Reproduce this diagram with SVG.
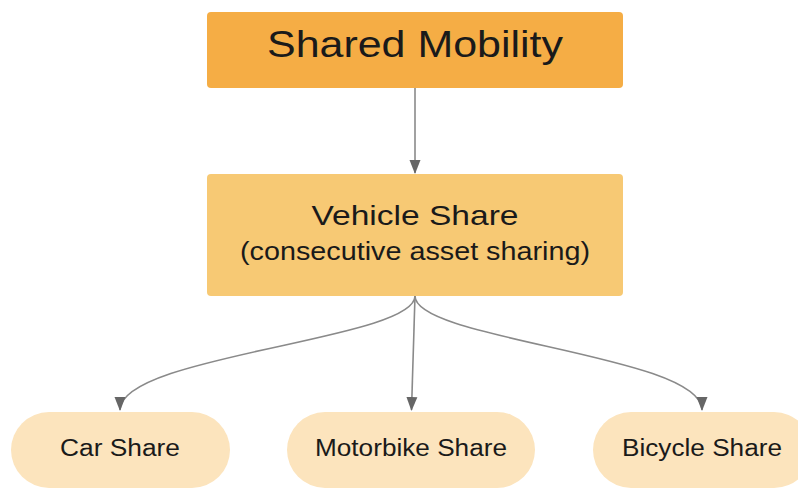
<svg xmlns="http://www.w3.org/2000/svg" width="798" height="489" viewBox="0 0 798 489">
<style>
text{font-family:"Liberation Sans",Arial,sans-serif;fill:#1a1a1a;text-anchor:middle}
.conn{fill:none;stroke:#8a8a8a;stroke-width:1.6}
.pill{fill:#FCE4BD}
</style>
<defs>
<marker id="ah" viewBox="0 0 14 12" refX="13" refY="6" markerWidth="14" markerHeight="12" markerUnits="userSpaceOnUse" orient="auto">
<path d="M0,0.5 L14,6 L0,11.5 Z" fill="#666"/>
</marker>
</defs>
<rect width="798" height="489" fill="#fff"/>
<g id="connectors">
<path class="conn" d="M415,88 L415,173" marker-end="url(#ah)"/>
<path class="conn" d="M415,296 L411.5,410" marker-end="url(#ah)"/>
<path class="conn" d="M415,296 C415,340 120,355 120,410" marker-end="url(#ah)"/>
<path class="conn" d="M415,296 C415,340 702,355 702,410" marker-end="url(#ah)"/>
</g>
<g id="shared-mobility">
<rect x="207" y="12" width="416" height="76" rx="4" fill="#F5AD45"/>
<text x="415" y="57" font-size="36" textLength="296" lengthAdjust="spacingAndGlyphs">Shared Mobility</text>
</g>
<g id="vehicle-share">
<rect x="207" y="174" width="416" height="122" rx="4" fill="#F7C974"/>
<text x="415" y="225" font-size="28" textLength="207" lengthAdjust="spacingAndGlyphs">Vehicle Share</text>
<text x="415" y="260" font-size="26" textLength="350" lengthAdjust="spacingAndGlyphs">(consecutive asset sharing)</text>
</g>
<g id="car-share">
<rect class="pill" x="11" y="412" width="219" height="76" rx="38"/>
<text x="120" y="456" font-size="23" textLength="120" lengthAdjust="spacingAndGlyphs">Car Share</text>
</g>
<g id="motorbike-share">
<rect class="pill" x="287" y="412" width="248" height="76" rx="38"/>
<text x="411" y="456" font-size="23" textLength="192" lengthAdjust="spacingAndGlyphs">Motorbike Share</text>
</g>
<g id="bicycle-share">
<rect class="pill" x="593" y="412" width="219" height="76" rx="38"/>
<text x="702" y="456" font-size="23" textLength="160" lengthAdjust="spacingAndGlyphs">Bicycle Share</text>
</g>
</svg>
